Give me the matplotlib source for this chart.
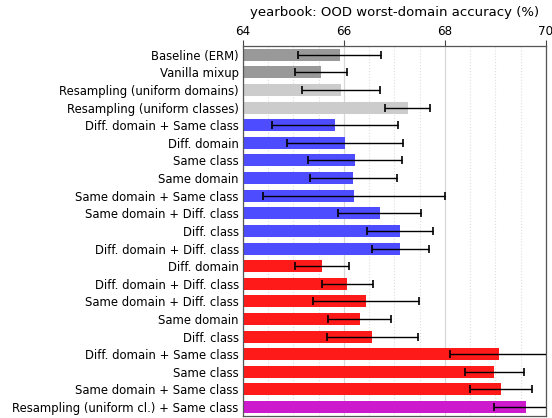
import matplotlib
matplotlib.use("Agg")
import matplotlib.pyplot as plt
import numpy as np

labels = [
    "Baseline (ERM)",
    "Vanilla mixup",
    "Resampling (uniform domains)",
    "Resampling (uniform classes)",
    "Diff. domain + Same class",
    "Diff. domain",
    "Same class",
    "Same domain",
    "Same domain + Same class",
    "Same domain + Diff. class",
    "Diff. class",
    "Diff. domain + Diff. class",
    "Diff. domain",
    "Diff. domain + Diff. class",
    "Same domain + Diff. class",
    "Same domain",
    "Diff. class",
    "Diff. domain + Same class",
    "Same class",
    "Same domain + Same class",
    "Resampling (uniform cl.) + Same class",
]

acc = [65.92, 65.55, 65.94, 67.26,
       65.82, 66.03, 66.22, 66.19, 66.20, 66.71, 67.11, 67.12,
       65.57, 66.07, 66.44, 66.31, 66.56, 69.08, 68.98, 69.11,
       69.60]
err = [0.82, 0.51, 0.77, 0.44,
       1.25, 1.15, 0.93, 0.87, 1.80, 0.82, 0.65, 0.57,
       0.53, 0.51, 1.05, 0.63, 0.90, 0.97, 0.58, 0.62,
       0.63]
groups = ["base", "base", "resamp", "resamp"] + ["blue"] * 8 + ["red"] * 8 + ["mix"]

group_colors = {
    "base": "#999999",
    "resamp": "#cccccc",
    "blue": "#4d4dff",
    "red": "#ff1a1a",
    "mix": "#cc1acc",
}

plt.rcParams["font.family"] = ["DejaVu Sans"]

fig = plt.figure(figsize=(5.52, 4.18), dpi=100)
ax = fig.add_axes([0.440, 0.005, 0.549, 0.885])

y = np.arange(len(labels))
colors = [group_colors[g] for g in groups]
ax.barh(y, acc, height=0.68, color=colors, zorder=2)
ax.errorbar(acc, y, xerr=err, fmt="none", ecolor="black", elinewidth=1,
            capsize=3, capthick=1.2, zorder=3)

ax.set_xlim(64, 70)
ax.set_ylim(len(labels) - 0.5, -0.5)
ax.set_yticks(y)
ax.set_yticklabels(labels, fontsize=8.4)
ax.tick_params(axis="y", length=0, pad=3)

ax.xaxis.tick_top()
ax.xaxis.set_label_position("top")
ax.set_xticks([64, 66, 68, 70])
ax.set_xticks(np.arange(64, 70.01, 0.5), minor=True)
ax.tick_params(axis="x", which="major", length=4, labelsize=8.6, pad=2, color="#444444")
ax.tick_params(axis="x", which="minor", length=0)
ax.grid(axis="x", which="major", color="#d8d8d8", linewidth=0.9, zorder=0)
ax.grid(axis="x", which="minor", color="#dddddd", linestyle=":", linewidth=0.8, zorder=0)
ax.set_axisbelow(True)
ax.set_xlabel("yearbook: OOD worst-domain accuracy (%)", fontsize=9.5, labelpad=6)

for s in ax.spines.values():
    s.set_color("#555555")
    s.set_linewidth(0.9)

fig.savefig("out.png", dpi=100)
